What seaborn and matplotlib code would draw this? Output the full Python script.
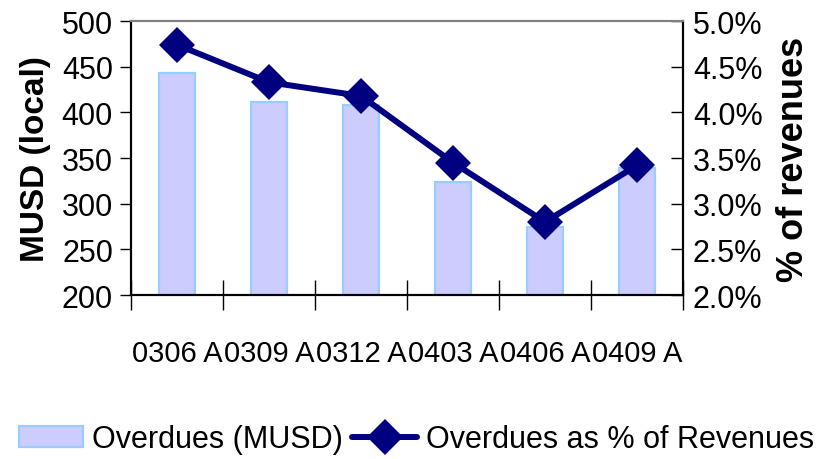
import matplotlib
matplotlib.use("Agg")
import matplotlib.pyplot as plt
from matplotlib.ticker import FixedLocator, FuncFormatter
import numpy as np
import pandas as pd
import seaborn as sns

# Quarterly overdues and their share of revenues
periods = ["0306 A", "0309 A", "0312 A", "0403 A", "0406 A", "0409 A"]
overdues_musd = [443, 411, 408, 324, 275, 339]
overdues_pct = [4.74, 4.33, 4.18, 3.45, 2.80, 3.42]

sns.set_theme(style="white")
plt.rcParams["font.family"] = ["Liberation Sans", "DejaVu Sans"]
plt.rcParams.update({
    "text.color": "black",
    "axes.labelcolor": "black",
    "xtick.color": "black",
    "ytick.color": "black",
})

df = pd.DataFrame({
    "pos": np.arange(len(periods)),
    "period": periods,
    "musd": overdues_musd,
    "pct": overdues_pct,
})

fig = plt.figure(figsize=(8.33, 4.6), dpi=100)
ax = fig.add_axes([0.1573, 0.3565, 0.8200 - 0.1573, 0.952 - 0.3565])

bar_face = "#CCCCFF"
bar_edge = "#99CCFF"
line_col = "#000080"

sns.barplot(data=df, x="pos", y="musd", ax=ax, color=bar_face, width=0.4,
            edgecolor=bar_edge, linewidth=1.6, saturation=1, native_scale=True,
            label="Overdues (MUSD)", legend=False)

ax2 = ax.twinx()
sns.lineplot(data=df, x="pos", y="pct", ax=ax2, color=line_col, linewidth=4.3,
             marker="D", markersize=18, markeredgewidth=0,
             label="Overdues as % of Revenues", legend=False)

# Axis ranges
ax.set_xlim(-0.5, len(periods) - 0.5)
ax.set_ylim(200, 500)
ax2.set_ylim(2.0, 5.0)

# Left axis
ax.set_yticks(np.arange(200, 501, 50))
ax.tick_params(axis="y", which="major", direction="out", length=8, width=1,
               labelsize=22, pad=5, left=True)
ax.set_ylabel("MUSD (local)", fontsize=24, fontweight="bold", labelpad=8)

# Category axis: labels at centers, tick marks at boundaries
ax.set_xticks(df["pos"])
ax.set_xticklabels(periods)
ax.xaxis.set_minor_locator(FixedLocator(np.arange(-0.5, len(periods), 1.0)))
ax.tick_params(axis="x", which="major", length=0, labelsize=21, pad=32)
ax.tick_params(axis="x", which="minor", direction="inout", length=21, width=1,
               bottom=True)
ax.set_xlabel("")

# Right axis
ax2.set_yticks(np.arange(2.0, 5.01, 0.5))
ax2.yaxis.set_major_formatter(FuncFormatter(lambda v, _: f"{v:.1f}%"))
ax2.tick_params(axis="y", which="major", direction="in", length=9, width=1,
                labelsize=22, pad=7, right=True)
ax2.set_ylabel("% of revenues", fontsize=26, fontweight="bold", labelpad=10)

for a in (ax, ax2):
    a.grid(False)
    for side in ("left", "right", "bottom"):
        a.spines[side].set_color("black")
        a.spines[side].set_linewidth(1.5)
    a.spines["top"].set_color("#808080")
    a.spines["top"].set_linewidth(1.5)

# Legend along the bottom
h1, l1 = ax.get_legend_handles_labels()
h2, l2 = ax2.get_legend_handles_labels()
fig.legend(h1 + h2, l1 + l2, loc="lower center", bbox_to_anchor=(0.5, -0.03),
           ncol=2, frameon=False, fontsize=22, handlelength=2.1,
           handletextpad=0.3, columnspacing=0.3, borderaxespad=0.2)

fig.savefig("out.png", dpi=100)
